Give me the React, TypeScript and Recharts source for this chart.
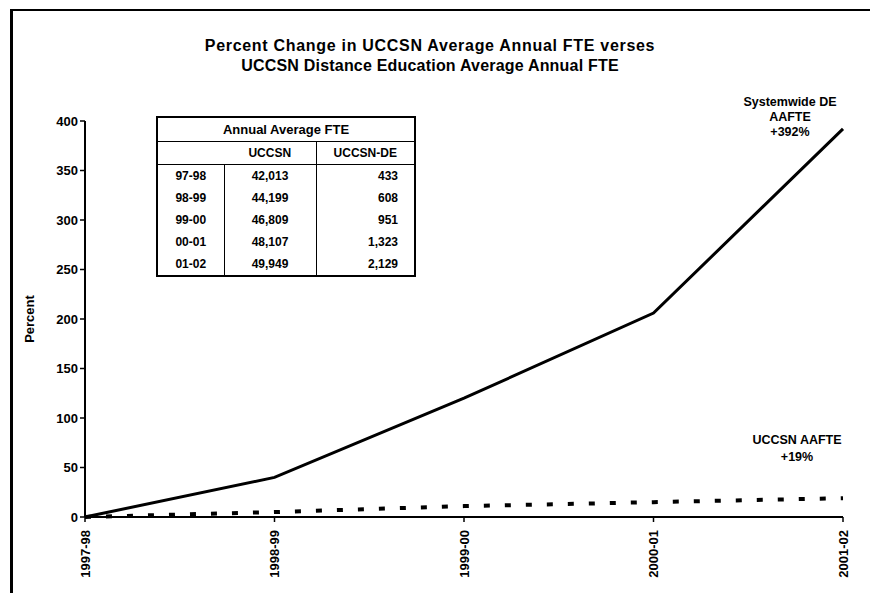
import React from "react";
import { LineChart, Line, XAxis, YAxis, Label } from "recharts";

const years = ["1997-98", "1998-99", "1999-00", "2000-01", "2001-02"];
const deChange = [0, 40, 120, 206, 392];
const uccsnChange = [0, 5, 11, 15, 19];
const yTicks = [0, 50, 100, 150, 200, 250, 300, 350, 400];

const tableYears = ["97-98", "98-99", "99-00", "00-01", "01-02"];
const tableUccsn = ["42,013", "44,199", "46,809", "48,107", "49,949"];
const tableDe = ["433", "608", "951", "1,323", "2,129"];

const data = years.map((y, i) => ({
  year: y,
  de: deChange[i],
  uccsn: uccsnChange[i],
}));

const FONT = "'Liberation Sans', Arial, sans-serif";

function XTick(props: any) {
  const { x, y, payload } = props;
  return (
    <text
      x={x}
      y={y + 6}
      transform={`rotate(-90 ${x} ${y + 6})`}
      textAnchor="end"
      dy="0.35em"
      fontFamily={FONT}
      fontWeight="bold"
      fontSize={13}
      fill="#000"
    >
      {payload.value}
    </text>
  );
}

const cell: React.CSSProperties = {
  padding: 0,
  fontSize: 12,
  fontWeight: "bold",
  height: 22,
};

export default function App() {
  return (
    <div
      style={{
        position: "absolute",
        left: 0,
        top: 0,
        width: 870,
        height: 593,
        background: "#fff",
        fontFamily: FONT,
        overflow: "hidden",
      }}
    >
      {/* frame */}
      <div
        style={{
          position: "absolute",
          left: 10,
          top: 9,
          width: 880,
          height: 600,
          borderTop: "2px solid #000",
          borderLeft: "3px solid #000",
        }}
      />
      <div
        style={{
          position: "absolute",
          left: 0,
          width: 860,
          top: 36,
          textAlign: "center",
          fontSize: 16,
          fontWeight: "bold",
          lineHeight: "20px",
        }}
      >
        <div style={{ letterSpacing: 0.7 }}>
          Percent Change in UCCSN Average Annual FTE verses
        </div>
        <div style={{ letterSpacing: 0.2 }}>
          UCCSN Distance Education Average Annual FTE
        </div>
      </div>

      <div style={{ position: "absolute", left: 0, top: 0 }}>
        <LineChart
          width={870}
          height={593}
          data={data}
          margin={{ top: 121, right: 27, left: 25, bottom: 10 }}
        >
          <XAxis
            dataKey="year"
            height={66}
            tick={<XTick />}
            tickSize={5}
            axisLine={{ stroke: "#000", strokeWidth: 2 }}
            tickLine={{ stroke: "#000", strokeWidth: 1.5 }}
            interval={0}
          />
          <YAxis
            width={60}
            domain={[0, 400]}
            ticks={yTicks}
            interval={0}
            tickSize={5}
            axisLine={{ stroke: "#000", strokeWidth: 2 }}
            tickLine={{ stroke: "#000", strokeWidth: 1.5 }}
            tick={{
              fill: "#000",
              fontSize: 13,
              fontWeight: "bold",
              fontFamily: FONT,
            }}
          >
            <Label
              value="Percent"
              angle={-90}
              position="insideLeft"
              offset={4}
              style={{
                fill: "#000",
                fontSize: 13,
                fontWeight: "bold",
                fontFamily: FONT,
                textAnchor: "middle",
              }}
            />
          </YAxis>
          <Line
            dataKey="de"
            stroke="#000"
            strokeWidth={3}
            dot={false}
            isAnimationActive={false}
          />
          <Line
            dataKey="uccsn"
            stroke="#000"
            strokeWidth={4}
            strokeDasharray="6 15"
            dot={false}
            isAnimationActive={false}
          />
        </LineChart>
      </div>

      {/* line annotations */}
      <div
        style={{
          position: "absolute",
          left: 730,
          width: 120,
          top: 95,
          textAlign: "center",
          fontSize: 12.5,
          fontWeight: "bold",
          lineHeight: "15px",
        }}
      >
        Systemwide DE
        <br />
        AAFTE
        <br />
        +392%
      </div>
      <div
        style={{
          position: "absolute",
          left: 737,
          width: 120,
          top: 432,
          textAlign: "center",
          fontSize: 12.5,
          fontWeight: "bold",
          lineHeight: "17px",
        }}
      >
        UCCSN AAFTE
        <br />
        +19%
      </div>

      {/* data table */}
      <table
        style={{
          position: "absolute",
          left: 156,
          top: 116,
          width: 258,
          borderCollapse: "collapse",
          border: "2px solid #000",
          fontFamily: FONT,
          tableLayout: "fixed",
        }}
      >
        <colgroup>
          <col style={{ width: 67 }} />
          <col style={{ width: 92 }} />
          <col style={{ width: 99 }} />
        </colgroup>
        <tbody>
          <tr>
            <td
              colSpan={3}
              style={{
                ...cell,
                height: 23,
                fontSize: 13,
                textAlign: "center",
                borderBottom: "1.5px solid #000",
              }}
            >
              Annual Average FTE
            </td>
          </tr>
          <tr>
            <td style={{ ...cell, borderBottom: "1.5px solid #000" }} />
            <td
              style={{
                ...cell,
                textAlign: "center",
                borderBottom: "1.5px solid #000",
              }}
            >
              UCCSN
            </td>
            <td
              style={{
                ...cell,
                textAlign: "center",
                borderBottom: "1.5px solid #000",
                borderLeft: "1.5px solid #000",
              }}
            >
              UCCSN-DE
            </td>
          </tr>
          {tableYears.map((yr, i) => (
            <tr key={yr}>
              <td style={{ ...cell, textAlign: "center" }}>{yr}</td>
              <td
                style={{
                  ...cell,
                  textAlign: "center",
                  borderLeft: "1.5px solid #000",
                }}
              >
                {tableUccsn[i]}
              </td>
              <td
                style={{
                  ...cell,
                  textAlign: "right",
                  paddingRight: 16,
                  borderLeft: "1.5px solid #000",
                }}
              >
                {tableDe[i]}
              </td>
            </tr>
          ))}
        </tbody>
      </table>
    </div>
  );
}
